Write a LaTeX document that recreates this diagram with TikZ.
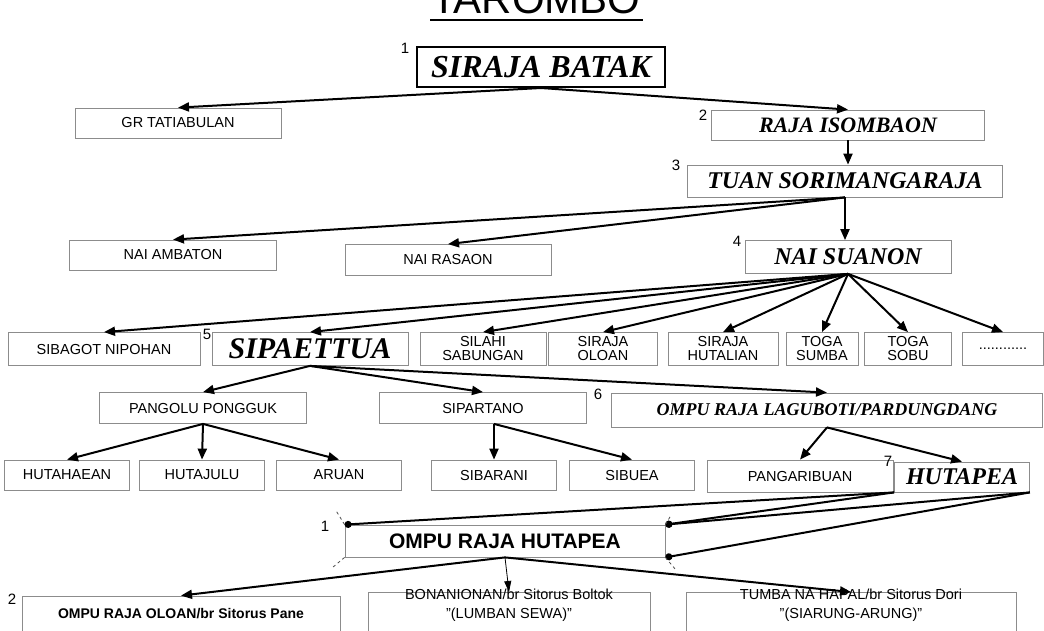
\documentclass[tikz,border=0pt]{standalone}
\usepackage{fontspec}
\setmainfont{Liberation Sans}
\newfontfamily\fancy{Liberation Serif}
\usetikzlibrary{arrows.meta}
\tikzset{
 box/.style={draw=black!45, line width=0.8pt, inner sep=1pt, align=center, font=\fontsize{14.5}{14}\selectfont},
 fbox/.style={box, font=\fancy\bfseries\itshape\fontsize{22}{22}\selectfont},
 arr/.style={line width=2pt, -{Triangle[length=11pt,width=9pt]}},
 dotl/.style={line width=2pt, {Circle[length=7pt]}-},
 num/.style={font=\fontsize{15}{15}\selectfont, inner sep=0pt},
 tick/.style={line width=0.8pt, dashed, black!70}
}
\begin{document}
\begin{tikzpicture}[x=1pt,y=-1pt]
\useasboundingbox (0,0) rectangle (1044,630);
% title
\node[font=\fontsize{42}{42}\selectfont, inner sep=0pt] (title) at (536,-1) {“TAROMBO”};
\draw[line width=2.5pt] (430,20) -- (643,20);
% nodes
\node[box, draw=black, line width=2pt, font=\fancy\bfseries\itshape\fontsize{32}{32}\selectfont, minimum width=248, minimum height=40] (sb) at (541,67) {SIRAJA BATAK};
\node[num] (n1) at (405,48) {1};
\node[box, minimum width=206, minimum height=30] (gr) at (178,123) {GR TATIABULAN};
\node[fbox, minimum width=273, minimum height=30] (ri) at (848,125) {RAJA ISOMBAON};
\node[num] (n2) at (703,115) {2};
\node[fbox, font=\fancy\bfseries\itshape\fontsize{24}{24}\selectfont, minimum width=315, minimum height=32] (ts) at (845,181) {TUAN SORIMANGARAJA};
\node[num] (n3) at (676,165) {3};
\node[box, minimum width=207, minimum height=30] (na) at (173,255) {NAI AMBATON};
\node[box, minimum width=206, minimum height=31] (nr) at (448,260) {NAI RASAON};
\node[fbox, font=\fancy\bfseries\itshape\fontsize{24}{24}\selectfont, minimum width=206, minimum height=33] (ns) at (848,257) {NAI SUANON};
\node[num] (n4) at (737,241) {4};
% row 5
\node[box, minimum width=192, minimum height=33] (sbn) at (104,349) {SIBAGOT NIPOHAN};
\node[num] (n5) at (207,334) {5};
\node[fbox, font=\fancy\bfseries\itshape\fontsize{30}{30}\selectfont, minimum width=196, minimum height=33] (sp) at (310,349) {SIPAETTUA};
\node[box, minimum width=126, minimum height=33] (sl) at (483,349) {SILAHI\\SABUNGAN};
\node[box, minimum width=109, minimum height=33] (so) at (603,349) {SIRAJA\\OLOAN};
\node[box, minimum width=110, minimum height=33] (sh) at (723,349) {SIRAJA\\HUTALIAN};
\node[box, minimum width=72, minimum height=33] (tsu) at (822,349) {TOGA\\SUMBA};
\node[box, minimum width=87, minimum height=33] (tso) at (908,349) {TOGA\\SOBU};
\node[box, minimum width=81, minimum height=33] (dots) at (1003,349) {............};
% row 6
\node[box, minimum width=207, minimum height=31] (pp) at (203,408) {PANGOLU PONGGUK};
\node[box, minimum width=207, minimum height=31] (spt) at (483,408) {SIPARTANO};
\node[num] (n6) at (598,394) {6};
\node[fbox, font=\fancy\bfseries\itshape\fontsize{18}{18}\selectfont, minimum width=431, minimum height=34] (ol) at (827,410) {OMPU RAJA LAGUBOTI/PARDUNGDANG};
% row 7
\node[box, minimum width=125, minimum height=30] (hh) at (67,475) {HUTAHAEAN};
\node[box, minimum width=125, minimum height=30] (hj) at (202,475) {HUTAJULU};
\node[box, minimum width=125, minimum height=30] (ar) at (339,475) {ARUAN};
\node[box, minimum width=125, minimum height=30] (sbr) at (494,475) {SIBARANI};
\node[box, minimum width=125, minimum height=30] (sbu) at (632,475) {SIBUEA};
\node[box, minimum width=186, minimum height=32] (pg) at (800,476) {PANGARIBUAN};
\node[num] (n7) at (888,461) {7};
\node[fbox, font=\fancy\bfseries\itshape\fontsize{24}{24}\selectfont, minimum width=135, minimum height=30] (hp) at (962,477) {HUTAPEA};
% bottom
\node[box, font=\bfseries\fontsize{21}{20}\selectfont, minimum width=320, minimum height=32] (orh) at (505,541) {OMPU RAJA HUTAPEA};
\node[num] (m1) at (325,526) {1};
\node[box, font=\bfseries\fontsize{14}{14}\selectfont, minimum width=318, minimum height=36] (oro) at (181,614) {OMPU RAJA OLOAN/br Sitorus Pane};
\node[num] (m2) at (12,599) {2};
\node[box, anchor=north, text height=12pt, minimum width=282, minimum height=44, font=\fontsize{14.5}{19}\selectfont] (bon) at (509,592) {BONANIONAN/br Sitorus Boltok\\ ”(LUMBAN SEWA)”};
\node[box, anchor=north, text height=12pt, minimum width=330, minimum height=44, font=\fontsize{14.5}{19}\selectfont] (tum) at (851,592) {TUMBA NA HAPAL/br Sitorus Dori\\ ”(SIARUNG-ARUNG)”};
% edges
\draw[arr] (sb.south) -- (gr.north);
\draw[arr] (sb.south) -- (ri.north);
\draw[arr] (ri.south) -- (ts.north -| ri.south);
\draw[arr] (ts.south) -- (na.north);
\draw[arr] (ts.south) -- (nr.north);
\draw[arr] (ts.south) -- (ns.north -| ts.south);
\foreach \t in {sbn,sp,sl,so,sh,tsu,tso,dots} \draw[arr] (ns.south) -- (\t.north);
\draw[arr] (sp.south) -- (pp.north);
\draw[arr] (sp.south) -- (spt.north);
\draw[arr] (sp.south) -- (ol.north);
\draw[arr] (pp.south) -- (hh.north);
\draw[arr] (pp.south) -- (hj.north);
\draw[arr] (pp.south) -- (ar.north);
\draw[arr] (spt.south -| sbr.north) -- (sbr.north);
\draw[arr] (spt.south -| sbr.north) -- (sbu.north);
\draw[arr] (ol.south) -- (pg.north);
\draw[arr] (ol.south) -- (hp.north);
\draw[dotl] (orh.north west) -- (hp.south west);
\draw[dotl] (orh.north east) -- (hp.south west);
\draw[dotl] (orh.north east) -- (hp.south east);
\draw[dotl] (orh.south east) -- (hp.south east);
\draw[tick] (orh.north west) -- ++(-8,-13);
\draw[tick] (orh.south west) -- ++(-12,10);
\draw[tick] (orh.north east) -- ++(6,-10);
\draw[tick] (orh.south east) -- ++(10,12);
\draw[arr] (orh.south) -- (oro.north);
\draw[line width=0.8pt, -{Triangle[length=11pt,width=7pt]}] (orh.south) -- (bon.north);
\draw[arr] (orh.south) -- (tum.north);
\end{tikzpicture}
\end{document}
